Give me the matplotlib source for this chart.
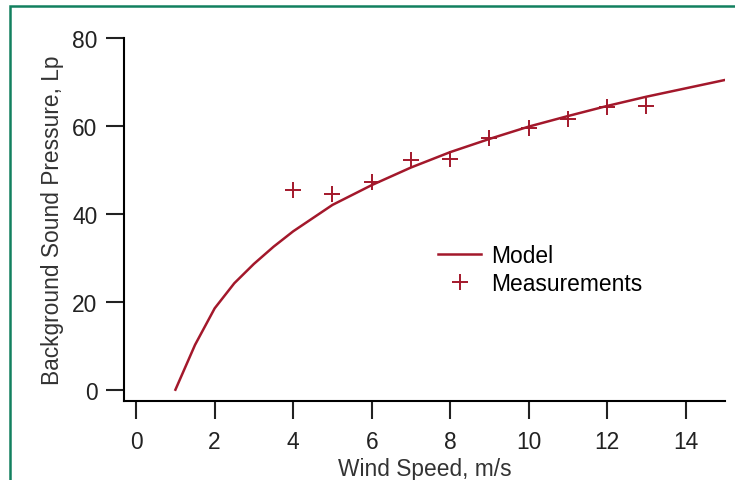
import matplotlib.pyplot as plt
from matplotlib.patches import Rectangle

plt.rcParams['font.family'] = ['Liberation Sans', 'DejaVu Sans']

# модельная кривая
model_x = [1, 1.5, 2, 2.5, 3, 3.5, 4, 5, 6, 7, 8, 9, 10, 11, 12, 13, 14, 15]
model_y = [0, 10.2, 18.5, 24.2, 28.6, 32.5, 36, 42, 46.5, 50.5, 54, 57, 59.8, 62.2, 64.5, 66.6, 68.5, 70.4]

# измерения
meas_x = [4, 5, 6, 7, 8, 9, 10, 11, 12, 13]
meas_y = [45.3, 44.4, 47.2, 52.3, 52.4, 57.1, 59.4, 61.5, 64.3, 64.5]

red = '#a3182b'
fs = 16.4

fig = plt.figure(figsize=(7.35, 4.81), dpi=100)
ax = fig.add_axes([0.1687, 0.1642, 0.8177, 0.7553])

ax.plot(model_x, model_y, color=red, lw=1.8, label='Model')
ax.plot(meas_x, meas_y, ls='none', marker='+', ms=11, mew=1.4, color=red, label='Measurements')

ax.set_xlim(-0.31, 15)
ax.set_ylim(-2.57, 80)
ax.set_xticks(range(0, 15, 2))
ax.set_yticks(range(0, 81, 20))

for s in ['top', 'right']:
    ax.spines[s].set_visible(False)
for s in ['left', 'bottom']:
    ax.spines[s].set_linewidth(1.5)
ax.tick_params(length=13, width=1.5, labelsize=fs, pad=6, colors='#222222')
ax.tick_params(axis='x', pad=8)

ax.set_xlabel('Wind Speed, m/s', fontsize=fs, color='#333333', labelpad=3)
ax.set_ylabel('Background Sound Pressure, Lp', fontsize=fs, color='#333333', labelpad=6)

fig.legend(loc='center left', bbox_to_anchor=(0.596, 0.438), frameon=False, fontsize=fs,
           handlelength=1.9, handletextpad=0.45, labelspacing=0.2, borderpad=0, borderaxespad=0)

# рамка вокруг рисунка
fig.patches.append(Rectangle((9.5 / 735, -0.2), 1.5, 1.2 - 6.5 / 481, transform=fig.transFigure,
                             fill=False, edgecolor='#12805f', lw=1.8, clip_on=False))

fig.savefig('out.png', dpi=100)
